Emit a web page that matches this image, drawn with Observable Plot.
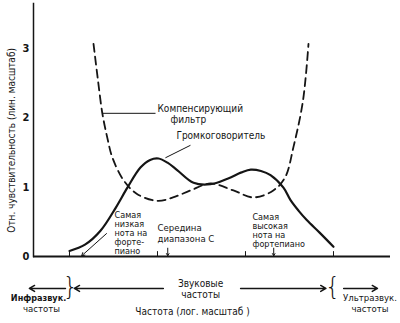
<!DOCTYPE html>
<html><head><meta charset="utf-8">
<script src="https://cdn.jsdelivr.net/npm/d3@7"></script>
<script src="https://cdn.jsdelivr.net/npm/@observablehq/plot@0.6"></script>
<style>body{margin:0;background:#fff} svg{display:block}</style>
</head><body><div id="chart"></div>
<script>
// Loudspeaker response (solid) — frequency in Hz, relative sensitivity
const speakerFreq = [20, 30, 45, 67, 91, 128, 165, 205, 260, 337, 514, 800, 1250, 1800, 2300, 3000, 3850, 5400, 6500, 8000, 10000, 14000, 20000];
const speakerGain = [0.08, 0.17, 0.37, 0.70, 0.99, 1.28, 1.39, 1.41, 1.35, 1.24, 1.06, 1.04, 1.12, 1.21, 1.25, 1.23, 1.17, 0.99, 0.81, 0.66, 0.52, 0.34, 0.14];
// Compensating filter (dashed)
const filterFreq = [37.5, 42, 47.4, 54, 61.6, 83, 117, 200, 300, 474, 800, 1460, 2457, 4140, 5650, 7000, 9000, 10400];
const filterGain = [3.06, 2.55, 2.05, 1.70, 1.42, 1.09, 0.90, 0.80, 0.85, 0.95, 1.05, 0.95, 0.85, 0.95, 1.14, 1.57, 2.24, 3.06];

const xTicks = [20, 200, 2000, 20000];
const xTickLabels = ["20 Гц", "200 Гц", "2 кГц", "20кГц"];
const yTicks = [0, 1, 2, 3];

// piano notes: lowest, middle C, highest
const noteFreq = [27.5, 261.6, 4186];

// annotation texts and anchors (data coordinates: Hz, sensitivity)
const topLabels = ["Компенсирующий", "фильтр", "Громкоговоритель"];
const topLabelFreq = [200, 282, 328];
const topLabelGain = [2.13, 1.97, 1.73];

const noteLabels = ["Самая\nнизкая\nнота на\nфорте-\nпиано", "Середина\nдиапазона С", "Самая\nвысокая\nнота на\nфортепиано"];
const noteLabelFreq = [65, 200, 2400];
const noteLabelGain = [0.34, 0.34, 0.37];
const noteLabelSize = [9, 9.5, 9];
const noteLabelLH = [1.0, 1.15, 1.0];

const F = "'Liberation Sans Narrow', 'DejaVu Sans Condensed', 'Liberation Sans', sans-serif";
const ink = "#151515";

const speaker = speakerFreq.map((f, i) => ({f, g: speakerGain[i]}));
const filter = filterFreq.map((f, i) => ({f, g: filterGain[i]}));
const notes = noteLabels.map((t, i) => ({t, f: noteLabelFreq[i], g: noteLabelGain[i], s: noteLabelSize[i], lh: noteLabelLH[i]}));

const plot = Plot.plot({
  width: 400, height: 323,
  marginLeft: 33, marginRight: 10, marginTop: 3, marginBottom: 67,
  style: {fontFamily: F, color: ink, background: "#fff", overflow: "visible"},
  x: {type: "log", domain: [7.8, 88900]},
  y: {domain: [0, 3.64]},
  marks: [
    Plot.frame({anchor: "left", stroke: ink, strokeWidth: 1.5}),
    Plot.ruleY([0], {stroke: ink, strokeWidth: 2}),
    Plot.axisY({ticks: yTicks, tickFormat: d3.format("d"), tickSize: 0, tickPadding: 4, fontSize: 11, fontWeight: "bold", label: null}),
    Plot.axisX({ticks: xTicks, tickFormat: (d, i) => xTickLabels[i], tickSize: 0, tickPadding: 3, fontSize: 9.5, fontWeight: "bold", label: null}),
    Plot.ruleX(xTicks, {y1: 0, y2: 0.07, stroke: ink, strokeWidth: 1}),
    // y label
    Plot.text(["Отн. чувствительность (лин. масштаб)"], {x: 4.4, y: 1.67, rotate: -90, fontSize: 10, fill: ink}),
    // curves
    Plot.line(filter, {x: "f", y: "g", curve: "catmull-rom", stroke: ink, strokeWidth: 1.8, strokeDasharray: "8,5"}),
    Plot.line(speaker, {x: "f", y: "g", curve: "catmull-rom", stroke: ink, strokeWidth: 2.2}),
    // leaders
    Plot.link([0], {x1: 47.4, y1: 2.06, x2: 190, y2: 2.06, stroke: ink, strokeWidth: 1}),
    Plot.link([0], {x1: 246, y1: 1.42, x2: 474, y2: 1.60, stroke: ink, strokeWidth: 1}),
    Plot.text(topLabels, {x: (d, i) => topLabelFreq[i], y: (d, i) => topLabelGain[i], text: d => d, textAnchor: "start", fontSize: 10, fill: ink}),
    // note annotations
    ...notes.map(n => Plot.text([n], {x: "f", y: "g", text: "t", textAnchor: "start", lineAnchor: "middle", lineHeight: n.lh, fontSize: n.s, fill: ink})),
    Plot.arrow([0], {x1: 52.7, y1: 0.33, x2: noteFreq[0], y2: 0.01, stroke: ink, strokeWidth: 1, headLength: 5}),
    Plot.arrow(noteFreq.slice(1), {x1: d => d, y1: 0.12, x2: d => d, y2: 0.01, stroke: ink, strokeWidth: 1, headLength: 5}),
    // bottom band
    Plot.text(["}", "{"], {x: [20.5, 19500], y: [-0.45, -0.45], text: d => d, fontSize: 24, fontFamily: "'DejaVu Sans'", fontWeight: 200, fill: ink}),
    Plot.arrow([0], {x1: 18, y1: -0.46, x2: 7.0, y2: -0.46, stroke: ink, strokeWidth: 1.5, headLength: 6}),
    Plot.arrow([0], {x1: 233, y1: -0.46, x2: 22.7, y2: -0.46, stroke: ink, strokeWidth: 1.5, headLength: 6}),
    Plot.arrow([0], {x1: 1760, y1: -0.46, x2: 16400, y2: -0.46, stroke: ink, strokeWidth: 1.5, headLength: 6}),
    Plot.arrow([0], {x1: 26100, y1: -0.46, x2: 63200, y2: -0.46, stroke: ink, strokeWidth: 1.5, headLength: 6}),
    Plot.text(["Звуковые\nчастоты"], {x: 618, y: -0.47, lineHeight: 1.05, fontSize: 10, fill: ink}),
    Plot.text(["Инфразвук."], {x: 8.9, y: -0.60, fontSize: 9, fontWeight: "bold", fill: ink}),
    Plot.text(["частоты"], {x: 9.6, y: -0.76, fontSize: 9.5, fill: ink}),
    Plot.text(["Ультразвук."], {x: 52000, y: -0.60, fontSize: 9.5, fill: ink}),
    Plot.text(["частоты"], {x: 52000, y: -0.76, fontSize: 9.5, fill: ink}),
    Plot.text(["Частота (лог. масштаб )"], {x: 500, y: -0.79, fontSize: 10, fill: ink})
  ]
});
document.getElementById("chart").appendChild(plot);
</script>
</body></html>
